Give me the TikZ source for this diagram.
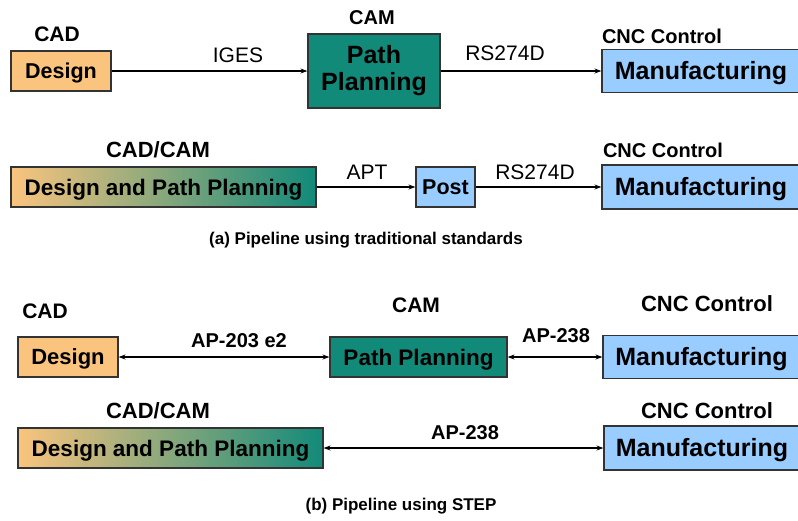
\documentclass[tikz,border=0pt]{standalone}
\usepackage{fontspec}
\setmainfont{Liberation Sans}
\usepackage{xcolor}
\usetikzlibrary{arrows.meta}

\definecolor{cadorange}{RGB}{250,196,126}
\definecolor{camteal}{RGB}{18,138,122}
\definecolor{cncblue}{RGB}{153,204,255}
\newcommand{\fsz}[1]{\fontsize{#1}{#1}\selectfont}

\begin{document}
\begin{tikzpicture}[x=1pt, y=-1pt, >={Stealth[length=7pt, width=5pt]}, line width=1.2pt,
    box/.style={draw=black!80, line width=1.2pt, inner sep=0pt, align=center},
    oneline/.style={box, font=\bfseries\fsz{#1}, text height=0.716*#1pt, text depth=0pt},
    cad/.style={oneline=#1, fill=cadorange},
    cam/.style={oneline=#1, fill=camteal},
    cnc/.style={oneline=#1, fill=cncblue},
    mixed/.style={oneline=#1, left color=cadorange, right color=camteal},
    tag/.style={inner sep=0pt, font=\bfseries\fsz{#1}},
    std/.style={inner sep=0pt, font=\fsz{21}}]
    \useasboundingbox (0,0) rectangle (798,520);
    \clip (0,0) rectangle (798,520);

    % (a) traditional standards
    \node[cad=21.5, minimum width=100pt, minimum height=40pt] (design1) at (61,71) {Design};
    \node[box, fill=camteal, minimum width=132pt, minimum height=74pt, font=\bfseries\fontsize{25}{27}\selectfont] (path1) at (374,71) {Path\\Planning};
    \node[cnc=25, minimum width=198pt, minimum height=43pt] (manu1) at (701,71) {Manufacturing};
    \node[tag=21] (cad1) at (57,34) {CAD};
    \node[tag=20] (cam1) at (372,18) {CAM};
    \node[tag=20] (cnc1) at (662,36) {CNC Control};
    \node[std] (iges) at (238,55) {IGES};
    \node[std] (rs1) at (505,53) {RS274D};
    \draw[->] (design1) -- (path1);
    \draw[->] (path1) -- (manu1);

    \node[mixed=22.5, minimum width=305pt, minimum height=40pt] (dpp2) at (163.5,187) {Design and Path Planning};
    \node[cnc=21.5, minimum width=59pt, minimum height=40pt] (post2) at (445.5,187) {Post};
    \node[cnc=25, minimum width=198pt, minimum height=44pt] (manu2) at (701,187) {Manufacturing};
    \node[tag=22] (cadcam2) at (158,150) {CAD/CAM};
    \node[tag=20] (cnc2) at (663,150) {CNC Control};
    \node[std] (apt) at (367,172) {APT};
    \node[std] (rs2) at (535,172) {RS274D};
    \draw[->] (dpp2) -- (post2);
    \draw[->] (post2) -- (manu2);
    \node[tag=17] (capa) at (366,240) {(a) Pipeline using traditional standards};

    % (b) STEP
    \node[cad=22, minimum width=100pt, minimum height=40pt] (design3) at (68,357) {Design};
    \node[cam=22.5, minimum width=177pt, minimum height=40pt] (path3) at (418.5,357) {Path Planning};
    \node[cnc=25, minimum width=197pt, minimum height=43pt] (manu3) at (701.5,357) {Manufacturing};
    \node[tag=21] (cad3) at (45,311) {CAD};
    \node[tag=21] (cam3) at (416,305) {CAM};
    \node[tag=22] (cnc3) at (707,304) {CNC Control};
    \node[tag=20] (ap203) at (239,341) {AP-203 e2};
    \node[tag=20] (ap238a) at (556,336) {AP-238};
    \draw[<->] (design3) -- (path3);
    \draw[<->] (path3) -- (manu3);

    \node[mixed=22.5, minimum width=305pt, minimum height=40pt] (dpp4) at (170.5,448) {Design and Path Planning};
    \node[cnc=25, minimum width=196pt, minimum height=44pt] (manu4) at (702,448) {Manufacturing};
    \node[tag=22] (cadcam4) at (158,411) {CAD/CAM};
    \node[tag=22] (cnc4) at (707,411) {CNC Control};
    \node[tag=20] (ap238b) at (465,433) {AP-238};
    \draw[<->] (dpp4) -- (manu4);
    \node[tag=17] (capb) at (401,506) {(b) Pipeline using STEP};
\end{tikzpicture}
\end{document}
